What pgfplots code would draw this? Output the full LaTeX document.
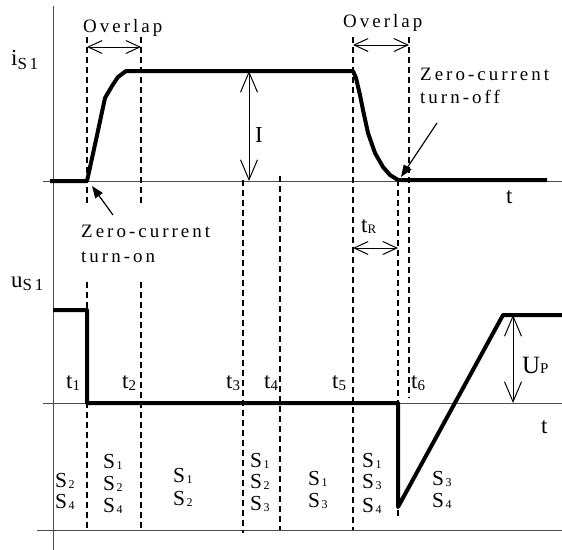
\documentclass[border=0pt]{standalone}
\usepackage{fontspec}
\setmainfont{Liberation Serif}
\newfontfamily\spaced[LetterSpace=16]{Liberation Serif}
\usepackage{pgfplots}
\pgfplotsset{compat=1.18}
\usetikzlibrary{arrows.meta}

% subscripted labels
\newcommand\tsub[2]{#1\raisebox{-0.12em}{\fontsize{15}{15}\selectfont #2}}
\newcommand\Ssub[1]{S\kern1.5pt\raisebox{-0.05em}{\fontsize{12}{12}\selectfont #1}}

\begin{document}
\begin{tikzpicture}[
  lbl/.style={inner sep=0pt, anchor=base west, font=\fontsize{23}{23}\selectfont},
  slbl/.style={inner sep=0pt, anchor=base west, font=\fontsize{21.5}{21.5}\selectfont},
  txt/.style={inner sep=0pt, anchor=base west, font=\fontsize{19}{19}\selectfont\spaced},
  dashln/.style={line width=1.1bp, dash pattern=on 6bp off 4bp},
  axln/.style={line width=0.9bp, black!70},
  wave/.style={line width=4bp, line join=round, black},
  dim/.style={line width=1bp, {Straight Barb[length=14bp,width=13bp]}-{Straight Barb[length=14bp,width=13bp]}},
  bigdim/.style={line width=1bp, {Straight Barb[length=20bp,width=17bp]}-{Straight Barb[length=20bp,width=17bp]}},
  point/.style={line width=1.2bp, -{Triangle[length=12bp,width=9bp]}},
]
\useasboundingbox (0,0) rectangle (562bp,550bp);
\begin{axis}[
  scale only axis, width=562bp, height=550bp,
  xmin=0, xmax=562, ymin=0, ymax=550, y dir=reverse,
  axis lines=none, clip=false,
]
% axes
\addplot[axln] coordinates {(53,6) (53,550)};
\addplot[axln] coordinates {(43,181) (562,181)};
\addplot[axln] coordinates {(43,403) (562,403)};
\addplot[axln] coordinates {(37,530) (562,530)};

% instants t1 ... t6 and the switching boundaries
\addplot[dashln] coordinates {(87,37) (87,207)};
\addplot[dashln] coordinates {(87,282) (87,530)};
\addplot[dashln] coordinates {(141,37) (141,207)};
\addplot[dashln] coordinates {(141,282) (141,530)};
\addplot[dashln] coordinates {(243,180) (243,533)};
\addplot[dashln] coordinates {(280,176) (280,530)};
\addplot[dashln] coordinates {(353,37) (353,530)};
\addplot[dashln] coordinates {(398,180) (398,520)};
\addplot[dashln] coordinates {(409,37) (409,398)};

% switch current i_S1
\addplot[wave] coordinates {
  (50,181) (87,181) (96,140) (105,98) (112,86) (118,77) (126,71)
  (353,71) (356,78) (360,95) (363,110) (368,133) (375,153) (383,167)
  (390,175) (398,180) (547,180)};

% switch voltage u_S1
\addplot[wave] coordinates {
  (53,310) (87,310) (87,403) (398,403) (398,507) (503,315) (562,315)};

% dimension arrows
\draw[dim] (axis cs:87,47) -- (axis cs:141,47);
\draw[dim] (axis cs:353,45) -- (axis cs:409,45);
\draw[dim] (axis cs:353,248) -- (axis cs:398,248);
\draw[bigdim] (axis cs:249,71) -- (axis cs:249,181);
\draw[bigdim] (axis cs:513,315) -- (axis cs:513,403);
\draw[point] (axis cs:113,215) -- (axis cs:92,186);
\draw[point] (axis cs:437,123) -- (axis cs:401,177);

% texts
\node[txt] at (axis cs:83,32) {Overlap};
\node[txt] at (axis cs:343,27) {Overlap};
\node[txt] at (axis cs:420,80) {Zero-current};
\node[txt] at (axis cs:420,103) {turn-off};
\node[txt] at (axis cs:81,237) {Zero-current};
\node[txt] at (axis cs:81,262) {turn-on};

\node[lbl] at (axis cs:11,65) {i\raisebox{-0.2em}{\fontsize{17}{17}\selectfont\spaced S1}};
\node[lbl] at (axis cs:11,287) {u\raisebox{-0.15em}{\fontsize{17}{17}\selectfont\spaced S1}};
\node[lbl] at (axis cs:255,142) {I};
\node[lbl, font=\fontsize{25}{25}\selectfont] at (axis cs:522,373) {U\raisebox{-0.02em}{\fontsize{15}{15}\selectfont P}};
\node[lbl] at (axis cs:361,232) {t\raisebox{-0.05em}{\fontsize{13}{13}\selectfont R}};
\node[lbl] at (axis cs:506,203) {t};
\node[lbl] at (axis cs:541,433) {t};

\node[lbl] at (axis cs:66,388) {\tsub{t}{1}};
\node[lbl] at (axis cs:122,388) {\tsub{t}{2}};
\node[lbl] at (axis cs:226,388) {\tsub{t}{3}};
\node[lbl] at (axis cs:264,388) {\tsub{t}{4}};
\node[lbl] at (axis cs:332,388) {\tsub{t}{5}};
\node[lbl] at (axis cs:411,388) {\tsub{t}{6}};

% conducting switches in each interval
\node[slbl] at (axis cs:55,487) {\Ssub{2}};
\node[slbl] at (axis cs:55,508) {\Ssub{4}};
\node[slbl] at (axis cs:103,468) {\Ssub{1}};
\node[slbl] at (axis cs:103,490) {\Ssub{2}};
\node[slbl] at (axis cs:103,512) {\Ssub{4}};
\node[slbl] at (axis cs:173,482) {\Ssub{1}};
\node[slbl] at (axis cs:173,505) {\Ssub{2}};
\node[slbl] at (axis cs:250,467) {\Ssub{1}};
\node[slbl] at (axis cs:250,488) {\Ssub{2}};
\node[slbl] at (axis cs:250,510) {\Ssub{3}};
\node[slbl] at (axis cs:308,485) {\Ssub{1}};
\node[slbl] at (axis cs:308,507) {\Ssub{3}};
\node[slbl] at (axis cs:362,467) {\Ssub{1}};
\node[slbl] at (axis cs:362,488) {\Ssub{3}};
\node[slbl] at (axis cs:362,512) {\Ssub{4}};
\node[slbl] at (axis cs:432,485) {\Ssub{3}};
\node[slbl] at (axis cs:432,507) {\Ssub{4}};
\end{axis}
\end{tikzpicture}
\end{document}
